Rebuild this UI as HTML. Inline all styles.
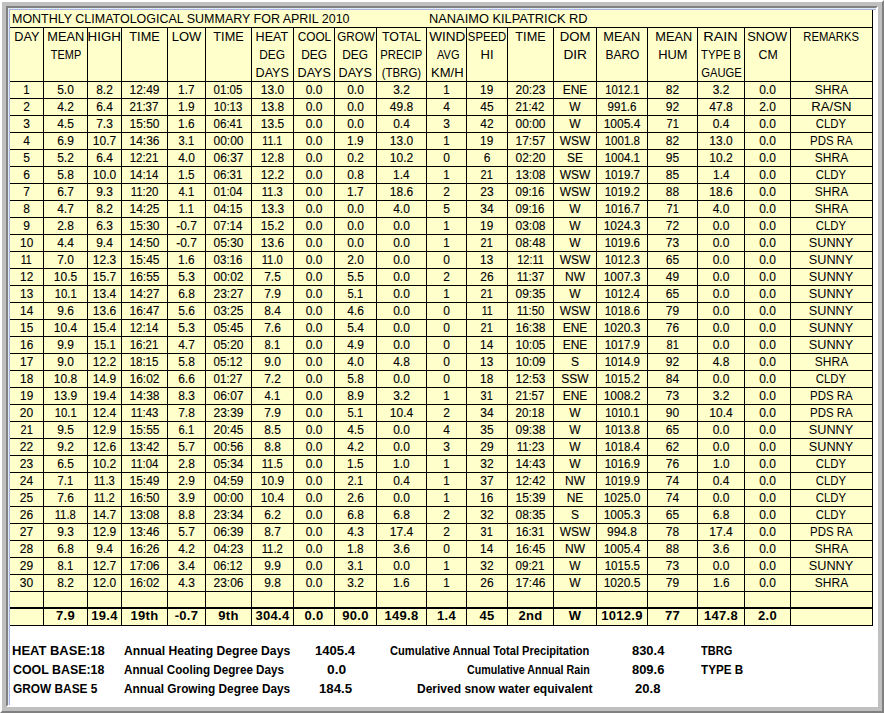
<!DOCTYPE html>
<html><head><meta charset="utf-8"><title>Monthly Climatological Summary</title>
<style>
html,body{margin:0;padding:0;}
body{width:884px;height:713px;position:relative;overflow:hidden;background:#fff;font-family:"Liberation Sans",sans-serif;color:#000;-webkit-text-stroke:0.12px #000;}
.a{position:absolute;}
.l{position:absolute;background:#000;}
.c{position:absolute;white-space:nowrap;text-align:center;}
.c span,.x span{display:inline-block;}
.x{position:absolute;white-space:nowrap;}
</style></head><body>

<div class="a" style="left:0;top:0;width:884px;height:713px;box-sizing:border-box;border-style:solid;border-width:2px;border-color:#fff #808080 #808080 #fff;background:#c0c0c0;"></div>
<div class="a" style="left:6px;top:6px;width:872px;height:701px;box-sizing:border-box;border-style:solid;border-width:2px;border-color:#808080 #fff #fff #808080;background:#fff;"></div>
<div class="a" style="left:8px;top:8px;width:1px;height:697px;background:#dce9f2;"></div>
<div class="a" style="left:9px;top:9px;width:1px;height:696px;background:#aab3e2;"></div>
<div class="a" style="left:8px;top:8px;width:868px;height:1px;background:#dce9f2;"></div>
<div class="a" style="left:9px;top:9px;width:867px;height:1px;background:#aab3e2;"></div>
<div class="a" style="left:10px;top:10px;width:862px;height:615px;background:#ffffcc;"></div>
<div class="l" style="left:10px;top:27px;width:863px;height:1px"></div>
<div class="l" style="left:10px;top:81px;width:863px;height:1px"></div>
<div class="l" style="left:10px;top:98px;width:863px;height:1px"></div>
<div class="l" style="left:10px;top:115px;width:863px;height:1px"></div>
<div class="l" style="left:10px;top:132px;width:863px;height:1px"></div>
<div class="l" style="left:10px;top:149px;width:863px;height:1px"></div>
<div class="l" style="left:10px;top:166px;width:863px;height:1px"></div>
<div class="l" style="left:10px;top:183px;width:863px;height:1px"></div>
<div class="l" style="left:10px;top:200px;width:863px;height:1px"></div>
<div class="l" style="left:10px;top:217px;width:863px;height:1px"></div>
<div class="l" style="left:10px;top:234px;width:863px;height:1px"></div>
<div class="l" style="left:10px;top:251px;width:863px;height:1px"></div>
<div class="l" style="left:10px;top:268px;width:863px;height:1px"></div>
<div class="l" style="left:10px;top:285px;width:863px;height:1px"></div>
<div class="l" style="left:10px;top:302px;width:863px;height:1px"></div>
<div class="l" style="left:10px;top:319px;width:863px;height:1px"></div>
<div class="l" style="left:10px;top:336px;width:863px;height:1px"></div>
<div class="l" style="left:10px;top:353px;width:863px;height:1px"></div>
<div class="l" style="left:10px;top:370px;width:863px;height:1px"></div>
<div class="l" style="left:10px;top:387px;width:863px;height:1px"></div>
<div class="l" style="left:10px;top:404px;width:863px;height:1px"></div>
<div class="l" style="left:10px;top:421px;width:863px;height:1px"></div>
<div class="l" style="left:10px;top:438px;width:863px;height:1px"></div>
<div class="l" style="left:10px;top:455px;width:863px;height:1px"></div>
<div class="l" style="left:10px;top:472px;width:863px;height:1px"></div>
<div class="l" style="left:10px;top:489px;width:863px;height:1px"></div>
<div class="l" style="left:10px;top:506px;width:863px;height:1px"></div>
<div class="l" style="left:10px;top:523px;width:863px;height:1px"></div>
<div class="l" style="left:10px;top:540px;width:863px;height:1px"></div>
<div class="l" style="left:10px;top:557px;width:863px;height:1px"></div>
<div class="l" style="left:10px;top:574px;width:863px;height:1px"></div>
<div class="l" style="left:10px;top:591px;width:863px;height:1px"></div>
<div class="l" style="left:10px;top:607px;width:863px;height:2px"></div>
<div class="l" style="left:10px;top:625px;width:863px;height:1px"></div>
<div class="l" style="left:43px;top:27px;width:1px;height:599px"></div>
<div class="l" style="left:87px;top:27px;width:1px;height:599px"></div>
<div class="l" style="left:121px;top:27px;width:1px;height:599px"></div>
<div class="l" style="left:167px;top:27px;width:1px;height:599px"></div>
<div class="l" style="left:205px;top:27px;width:1px;height:599px"></div>
<div class="l" style="left:251px;top:27px;width:1px;height:599px"></div>
<div class="l" style="left:293px;top:27px;width:1px;height:599px"></div>
<div class="l" style="left:334px;top:27px;width:1px;height:599px"></div>
<div class="l" style="left:376px;top:27px;width:1px;height:599px"></div>
<div class="l" style="left:426px;top:27px;width:1px;height:599px"></div>
<div class="l" style="left:466px;top:27px;width:1px;height:599px"></div>
<div class="l" style="left:507px;top:27px;width:1px;height:599px"></div>
<div class="l" style="left:553px;top:27px;width:1px;height:599px"></div>
<div class="l" style="left:596px;top:27px;width:1px;height:599px"></div>
<div class="l" style="left:647px;top:27px;width:1px;height:599px"></div>
<div class="l" style="left:697px;top:27px;width:1px;height:599px"></div>
<div class="l" style="left:744px;top:27px;width:1px;height:599px"></div>
<div class="l" style="left:790px;top:27px;width:1px;height:599px"></div>
<div class="l" style="left:872px;top:10px;width:1px;height:616px"></div>
<div class="x" style="left:12.04px;top:10px;line-height:17px;font-size:13px;-webkit-text-stroke:0"><span style="transform:scaleX(0.9600);transform-origin:0 0">MONTHLY CLIMATOLOGICAL SUMMARY FOR APRIL 2010</span></div>
<div class="x" style="left:429.01px;top:10px;line-height:17px;font-size:13px;-webkit-text-stroke:0"><span style="transform:scaleX(0.9874);transform-origin:0 0">NANAIMO KILPATRICK RD</span></div>
<div class="c" style="left:10px;top:28px;width:33px;line-height:18px;font-size:13px;-webkit-text-stroke:0"><span style="transform:scaleX(0.9750)">DAY</span></div>
<div class="c" style="left:44px;top:28px;width:43px;line-height:18px;font-size:13px;-webkit-text-stroke:0"><span style="transform:scaleX(0.9806)">MEAN</span></div>
<div class="c" style="left:45px;top:46px;width:43px;line-height:18px;font-size:13px;-webkit-text-stroke:0"><span style="transform:scaleX(0.8417)">TEMP</span></div>
<div class="c" style="left:88px;top:28px;width:33px;line-height:18px;font-size:13px;-webkit-text-stroke:0"><span style="transform:scaleX(1.0258)">HIGH</span></div>
<div class="c" style="left:122.4px;top:28px;width:45.0px;line-height:18px;font-size:13px;-webkit-text-stroke:0"><span style="transform:scaleX(0.9774)">TIME</span></div>
<div class="c" style="left:168px;top:28px;width:37px;line-height:18px;font-size:13px;-webkit-text-stroke:0"><span>LOW</span></div>
<div class="c" style="left:206.5px;top:28px;width:45.0px;line-height:18px;font-size:13px;-webkit-text-stroke:0"><span style="transform:scaleX(0.9774)">TIME</span></div>
<div class="c" style="left:251.2px;top:28px;width:41.0px;line-height:18px;font-size:13px;-webkit-text-stroke:0"><span style="transform:scaleX(0.9636)">HEAT</span></div>
<div class="c" style="left:252px;top:46px;width:41px;line-height:18px;font-size:13px;-webkit-text-stroke:0"><span style="transform:scaleX(0.9154)">DEG</span></div>
<div class="c" style="left:252px;top:64px;width:41px;line-height:18px;font-size:13px;-webkit-text-stroke:0"><span style="transform:scaleX(0.9697)">DAYS</span></div>
<div class="c" style="left:294px;top:28px;width:40px;line-height:18px;font-size:13px;-webkit-text-stroke:0"><span style="transform:scaleX(0.9111)">COOL</span></div>
<div class="c" style="left:294px;top:46px;width:40px;line-height:18px;font-size:13px;-webkit-text-stroke:0"><span style="transform:scaleX(0.9154)">DEG</span></div>
<div class="c" style="left:294px;top:64px;width:40px;line-height:18px;font-size:13px;-webkit-text-stroke:0"><span style="transform:scaleX(0.9697)">DAYS</span></div>
<div class="c" style="left:335px;top:28px;width:41px;line-height:18px;font-size:13px;-webkit-text-stroke:0"><span style="transform:scaleX(0.8951)">GROW</span></div>
<div class="c" style="left:335px;top:46px;width:41px;line-height:18px;font-size:13px;-webkit-text-stroke:0"><span style="transform:scaleX(0.9154)">DEG</span></div>
<div class="c" style="left:335px;top:64px;width:41px;line-height:18px;font-size:13px;-webkit-text-stroke:0"><span style="transform:scaleX(0.9697)">DAYS</span></div>
<div class="c" style="left:377px;top:28px;width:49px;line-height:18px;font-size:13px;-webkit-text-stroke:0"><span style="transform:scaleX(0.9561)">TOTAL</span></div>
<div class="c" style="left:377px;top:46px;width:49px;line-height:18px;font-size:13px;-webkit-text-stroke:0"><span style="transform:scaleX(0.8660)">PRECIP</span></div>
<div class="c" style="left:377px;top:64px;width:49px;line-height:18px;font-size:13px;-webkit-text-stroke:0"><span style="transform:scaleX(0.8814)">(TBRG)</span></div>
<div class="c" style="left:428px;top:28px;width:39px;line-height:18px;font-size:13px;-webkit-text-stroke:0"><span style="transform:scaleX(1.0412)">WIND</span></div>
<div class="c" style="left:428.3px;top:46px;width:39.0px;line-height:18px;font-size:13px;-webkit-text-stroke:0"><span style="transform:scaleX(0.8500)">AVG</span></div>
<div class="c" style="left:427.8px;top:64px;width:39.0px;line-height:18px;font-size:13px;-webkit-text-stroke:0"><span>KM/H</span></div>
<div class="c" style="left:464.5px;top:28px;width:40.0px;line-height:18px;font-size:13px;-webkit-text-stroke:0"><span style="transform:scaleX(0.8721)">SPEED</span></div>
<div class="c" style="left:467px;top:46px;width:40px;line-height:18px;font-size:13px;-webkit-text-stroke:0"><span>HI</span></div>
<div class="c" style="left:508.5px;top:28px;width:45.0px;line-height:18px;font-size:13px;-webkit-text-stroke:0"><span style="transform:scaleX(0.9774)">TIME</span></div>
<div class="c" style="left:554px;top:28px;width:42px;line-height:18px;font-size:13px;-webkit-text-stroke:0"><span style="transform:scaleX(1.0143)">DOM</span></div>
<div class="c" style="left:554px;top:46px;width:42px;line-height:18px;font-size:13px;-webkit-text-stroke:0"><span style="transform:scaleX(1.0524)">DIR</span></div>
<div class="c" style="left:597px;top:28px;width:50px;line-height:18px;font-size:13px;-webkit-text-stroke:0"><span style="transform:scaleX(0.9806)">MEAN</span></div>
<div class="c" style="left:597px;top:46px;width:50px;line-height:18px;font-size:13px;-webkit-text-stroke:0"><span style="transform:scaleX(0.9200)">BARO</span></div>
<div class="c" style="left:648.9px;top:28px;width:49.0px;line-height:18px;font-size:13px;-webkit-text-stroke:0"><span style="transform:scaleX(0.9806)">MEAN</span></div>
<div class="c" style="left:648px;top:46px;width:49px;line-height:18px;font-size:13px;-webkit-text-stroke:0"><span style="transform:scaleX(0.9893)">HUM</span></div>
<div class="c" style="left:698px;top:28px;width:46px;line-height:18px;font-size:13px;-webkit-text-stroke:0"><span style="transform:scaleX(1.1103)">RAIN</span></div>
<div class="c" style="left:698px;top:46px;width:46px;line-height:18px;font-size:13px;-webkit-text-stroke:0"><span style="transform:scaleX(0.8652)">TYPE B</span></div>
<div class="c" style="left:698px;top:64px;width:46px;line-height:18px;font-size:13px;-webkit-text-stroke:0"><span style="transform:scaleX(0.8630)">GAUGE</span></div>
<div class="c" style="left:745px;top:28px;width:45px;line-height:18px;font-size:13px;-webkit-text-stroke:0"><span style="transform:scaleX(0.9850)">SNOW</span></div>
<div class="c" style="left:745.8px;top:46px;width:45.0px;line-height:18px;font-size:13px;-webkit-text-stroke:0"><span style="transform:scaleX(0.9500)">CM</span></div>
<div class="c" style="left:791px;top:28px;width:81px;line-height:18px;font-size:13px;-webkit-text-stroke:0"><span style="transform:scaleX(0.8667)">REMARKS</span></div>
<div class="c" style="left:10px;top:82px;width:33px;line-height:16px;font-size:12px"><span style="transform:scaleX(0.9600)">1</span></div>
<div class="c" style="left:44px;top:82px;width:43px;line-height:16px;font-size:12px"><span>5.0</span></div>
<div class="c" style="left:88px;top:82px;width:33px;line-height:16px;font-size:12px"><span>8.2</span></div>
<div class="c" style="left:122px;top:82px;width:45px;line-height:16px;font-size:12px"><span>12:49</span></div>
<div class="c" style="left:168px;top:82px;width:37px;line-height:16px;font-size:12px"><span style="transform:scaleX(0.9867)">1.7</span></div>
<div class="c" style="left:206px;top:82px;width:45px;line-height:16px;font-size:12px"><span style="transform:scaleX(0.9633)">01:05</span></div>
<div class="c" style="left:252px;top:82px;width:41px;line-height:16px;font-size:12px"><span>13.0</span></div>
<div class="c" style="left:294px;top:82px;width:40px;line-height:16px;font-size:12px"><span>0.0</span></div>
<div class="c" style="left:335px;top:82px;width:41px;line-height:16px;font-size:12px"><span>0.0</span></div>
<div class="c" style="left:377px;top:82px;width:49px;line-height:16px;font-size:12px"><span>3.2</span></div>
<div class="c" style="left:427px;top:82px;width:39px;line-height:16px;font-size:12px"><span style="transform:scaleX(0.9600)">1</span></div>
<div class="c" style="left:467px;top:82px;width:40px;line-height:16px;font-size:12px"><span style="transform:scaleX(0.9833)">19</span></div>
<div class="c" style="left:508px;top:82px;width:45px;line-height:16px;font-size:12px"><span>20:23</span></div>
<div class="c" style="left:554px;top:82px;width:42px;line-height:16px;font-size:12px"><span>ENE</span></div>
<div class="c" style="left:597px;top:82px;width:50px;line-height:16px;font-size:12px"><span style="transform:scaleX(0.9314)">1012.1</span></div>
<div class="c" style="left:648px;top:82px;width:49px;line-height:16px;font-size:12px"><span>82</span></div>
<div class="c" style="left:698px;top:82px;width:46px;line-height:16px;font-size:12px"><span>3.2</span></div>
<div class="c" style="left:745px;top:82px;width:45px;line-height:16px;font-size:12px"><span>0.0</span></div>
<div class="c" style="left:791px;top:82px;width:81px;line-height:16px;font-size:12px;-webkit-text-stroke:0"><span>SHRA</span></div>
<div class="c" style="left:10px;top:99px;width:33px;line-height:16px;font-size:12px"><span>2</span></div>
<div class="c" style="left:44px;top:99px;width:43px;line-height:16px;font-size:12px"><span>4.2</span></div>
<div class="c" style="left:88px;top:99px;width:33px;line-height:16px;font-size:12px"><span>6.4</span></div>
<div class="c" style="left:122px;top:99px;width:45px;line-height:16px;font-size:12px"><span style="transform:scaleX(0.9621)">21:37</span></div>
<div class="c" style="left:168px;top:99px;width:37px;line-height:16px;font-size:12px"><span style="transform:scaleX(0.9867)">1.9</span></div>
<div class="c" style="left:206px;top:99px;width:45px;line-height:16px;font-size:12px"><span style="transform:scaleX(0.9552)">10:13</span></div>
<div class="c" style="left:252px;top:99px;width:41px;line-height:16px;font-size:12px"><span>13.8</span></div>
<div class="c" style="left:294px;top:99px;width:40px;line-height:16px;font-size:12px"><span>0.0</span></div>
<div class="c" style="left:335px;top:99px;width:41px;line-height:16px;font-size:12px"><span>0.0</span></div>
<div class="c" style="left:377px;top:99px;width:49px;line-height:16px;font-size:12px"><span>49.8</span></div>
<div class="c" style="left:427px;top:99px;width:39px;line-height:16px;font-size:12px"><span>4</span></div>
<div class="c" style="left:467px;top:99px;width:40px;line-height:16px;font-size:12px"><span>45</span></div>
<div class="c" style="left:508px;top:99px;width:45px;line-height:16px;font-size:12px"><span style="transform:scaleX(0.9621)">21:42</span></div>
<div class="c" style="left:554px;top:99px;width:42px;line-height:16px;font-size:12px"><span>W</span></div>
<div class="c" style="left:597px;top:99px;width:50px;line-height:16px;font-size:12px"><span style="transform:scaleX(0.9621)">991.6</span></div>
<div class="c" style="left:648px;top:99px;width:49px;line-height:16px;font-size:12px"><span>92</span></div>
<div class="c" style="left:698px;top:99px;width:46px;line-height:16px;font-size:12px"><span>47.8</span></div>
<div class="c" style="left:745px;top:99px;width:45px;line-height:16px;font-size:12px"><span>2.0</span></div>
<div class="c" style="left:791px;top:99px;width:81px;line-height:16px;font-size:12px;-webkit-text-stroke:0"><span style="transform:scaleX(1.0971)">RA/SN</span></div>
<div class="c" style="left:10px;top:116px;width:33px;line-height:16px;font-size:12px"><span>3</span></div>
<div class="c" style="left:44px;top:116px;width:43px;line-height:16px;font-size:12px"><span>4.5</span></div>
<div class="c" style="left:88px;top:116px;width:33px;line-height:16px;font-size:12px"><span>7.3</span></div>
<div class="c" style="left:122px;top:116px;width:45px;line-height:16px;font-size:12px"><span>15:50</span></div>
<div class="c" style="left:168px;top:116px;width:37px;line-height:16px;font-size:12px"><span style="transform:scaleX(0.9867)">1.6</span></div>
<div class="c" style="left:206px;top:116px;width:45px;line-height:16px;font-size:12px"><span style="transform:scaleX(0.9633)">06:41</span></div>
<div class="c" style="left:252px;top:116px;width:41px;line-height:16px;font-size:12px"><span>13.5</span></div>
<div class="c" style="left:294px;top:116px;width:40px;line-height:16px;font-size:12px"><span>0.0</span></div>
<div class="c" style="left:335px;top:116px;width:41px;line-height:16px;font-size:12px"><span>0.0</span></div>
<div class="c" style="left:377px;top:116px;width:49px;line-height:16px;font-size:12px"><span>0.4</span></div>
<div class="c" style="left:427px;top:116px;width:39px;line-height:16px;font-size:12px"><span>3</span></div>
<div class="c" style="left:467px;top:116px;width:40px;line-height:16px;font-size:12px"><span>42</span></div>
<div class="c" style="left:508px;top:116px;width:45px;line-height:16px;font-size:12px"><span>00:00</span></div>
<div class="c" style="left:554px;top:116px;width:42px;line-height:16px;font-size:12px"><span>W</span></div>
<div class="c" style="left:597px;top:116px;width:50px;line-height:16px;font-size:12px"><span>1005.4</span></div>
<div class="c" style="left:648px;top:116px;width:49px;line-height:16px;font-size:12px"><span style="transform:scaleX(0.9083)">71</span></div>
<div class="c" style="left:698px;top:116px;width:46px;line-height:16px;font-size:12px"><span>0.4</span></div>
<div class="c" style="left:745px;top:116px;width:45px;line-height:16px;font-size:12px"><span>0.0</span></div>
<div class="c" style="left:791px;top:116px;width:81px;line-height:16px;font-size:12px;-webkit-text-stroke:0"><span style="transform:scaleX(0.9484)">CLDY</span></div>
<div class="c" style="left:10px;top:133px;width:33px;line-height:16px;font-size:12px"><span>4</span></div>
<div class="c" style="left:44px;top:133px;width:43px;line-height:16px;font-size:12px"><span>6.9</span></div>
<div class="c" style="left:88px;top:133px;width:33px;line-height:16px;font-size:12px"><span>10.7</span></div>
<div class="c" style="left:122px;top:133px;width:45px;line-height:16px;font-size:12px"><span>14:36</span></div>
<div class="c" style="left:168px;top:133px;width:37px;line-height:16px;font-size:12px"><span style="transform:scaleX(0.9267)">3.1</span></div>
<div class="c" style="left:206px;top:133px;width:45px;line-height:16px;font-size:12px"><span>00:00</span></div>
<div class="c" style="left:252px;top:133px;width:41px;line-height:16px;font-size:12px"><span style="transform:scaleX(0.8857)">11.1</span></div>
<div class="c" style="left:294px;top:133px;width:40px;line-height:16px;font-size:12px"><span>0.0</span></div>
<div class="c" style="left:335px;top:133px;width:41px;line-height:16px;font-size:12px"><span style="transform:scaleX(0.9867)">1.9</span></div>
<div class="c" style="left:377px;top:133px;width:49px;line-height:16px;font-size:12px"><span>13.0</span></div>
<div class="c" style="left:427px;top:133px;width:39px;line-height:16px;font-size:12px"><span style="transform:scaleX(0.9600)">1</span></div>
<div class="c" style="left:467px;top:133px;width:40px;line-height:16px;font-size:12px"><span style="transform:scaleX(0.9833)">19</span></div>
<div class="c" style="left:508px;top:133px;width:45px;line-height:16px;font-size:12px"><span>17:57</span></div>
<div class="c" style="left:554px;top:133px;width:42px;line-height:16px;font-size:12px"><span>WSW</span></div>
<div class="c" style="left:597px;top:133px;width:50px;line-height:16px;font-size:12px"><span style="transform:scaleX(0.9629)">1001.8</span></div>
<div class="c" style="left:648px;top:133px;width:49px;line-height:16px;font-size:12px"><span>82</span></div>
<div class="c" style="left:698px;top:133px;width:46px;line-height:16px;font-size:12px"><span>13.0</span></div>
<div class="c" style="left:745px;top:133px;width:45px;line-height:16px;font-size:12px"><span>0.0</span></div>
<div class="c" style="left:791px;top:133px;width:81px;line-height:16px;font-size:12px;-webkit-text-stroke:0"><span style="transform:scaleX(0.9523)">PDS RA</span></div>
<div class="c" style="left:10px;top:150px;width:33px;line-height:16px;font-size:12px"><span>5</span></div>
<div class="c" style="left:44px;top:150px;width:43px;line-height:16px;font-size:12px"><span>5.2</span></div>
<div class="c" style="left:88px;top:150px;width:33px;line-height:16px;font-size:12px"><span>6.4</span></div>
<div class="c" style="left:122px;top:150px;width:45px;line-height:16px;font-size:12px"><span style="transform:scaleX(0.9552)">12:21</span></div>
<div class="c" style="left:168px;top:150px;width:37px;line-height:16px;font-size:12px"><span>4.0</span></div>
<div class="c" style="left:206px;top:150px;width:45px;line-height:16px;font-size:12px"><span>06:37</span></div>
<div class="c" style="left:252px;top:150px;width:41px;line-height:16px;font-size:12px"><span>12.8</span></div>
<div class="c" style="left:294px;top:150px;width:40px;line-height:16px;font-size:12px"><span>0.0</span></div>
<div class="c" style="left:335px;top:150px;width:41px;line-height:16px;font-size:12px"><span>0.2</span></div>
<div class="c" style="left:377px;top:150px;width:49px;line-height:16px;font-size:12px"><span>10.2</span></div>
<div class="c" style="left:427px;top:150px;width:39px;line-height:16px;font-size:12px"><span>0</span></div>
<div class="c" style="left:467px;top:150px;width:40px;line-height:16px;font-size:12px"><span>6</span></div>
<div class="c" style="left:508px;top:150px;width:45px;line-height:16px;font-size:12px"><span>02:20</span></div>
<div class="c" style="left:554px;top:150px;width:42px;line-height:16px;font-size:12px"><span>SE</span></div>
<div class="c" style="left:597px;top:150px;width:50px;line-height:16px;font-size:12px"><span style="transform:scaleX(0.9629)">1004.1</span></div>
<div class="c" style="left:648px;top:150px;width:49px;line-height:16px;font-size:12px"><span>95</span></div>
<div class="c" style="left:698px;top:150px;width:46px;line-height:16px;font-size:12px"><span>10.2</span></div>
<div class="c" style="left:745px;top:150px;width:45px;line-height:16px;font-size:12px"><span>0.0</span></div>
<div class="c" style="left:791px;top:150px;width:81px;line-height:16px;font-size:12px;-webkit-text-stroke:0"><span>SHRA</span></div>
<div class="c" style="left:10px;top:167px;width:33px;line-height:16px;font-size:12px"><span>6</span></div>
<div class="c" style="left:44px;top:167px;width:43px;line-height:16px;font-size:12px"><span>5.8</span></div>
<div class="c" style="left:88px;top:167px;width:33px;line-height:16px;font-size:12px"><span>10.0</span></div>
<div class="c" style="left:122px;top:167px;width:45px;line-height:16px;font-size:12px"><span style="transform:scaleX(0.9552)">14:14</span></div>
<div class="c" style="left:168px;top:167px;width:37px;line-height:16px;font-size:12px"><span style="transform:scaleX(0.9867)">1.5</span></div>
<div class="c" style="left:206px;top:167px;width:45px;line-height:16px;font-size:12px"><span style="transform:scaleX(0.9633)">06:31</span></div>
<div class="c" style="left:252px;top:167px;width:41px;line-height:16px;font-size:12px"><span>12.2</span></div>
<div class="c" style="left:294px;top:167px;width:40px;line-height:16px;font-size:12px"><span>0.0</span></div>
<div class="c" style="left:335px;top:167px;width:41px;line-height:16px;font-size:12px"><span>0.8</span></div>
<div class="c" style="left:377px;top:167px;width:49px;line-height:16px;font-size:12px"><span style="transform:scaleX(0.9875)">1.4</span></div>
<div class="c" style="left:427px;top:167px;width:39px;line-height:16px;font-size:12px"><span style="transform:scaleX(0.9600)">1</span></div>
<div class="c" style="left:467px;top:167px;width:40px;line-height:16px;font-size:12px"><span style="transform:scaleX(0.9083)">21</span></div>
<div class="c" style="left:508px;top:167px;width:45px;line-height:16px;font-size:12px"><span>13:08</span></div>
<div class="c" style="left:554px;top:167px;width:42px;line-height:16px;font-size:12px"><span>WSW</span></div>
<div class="c" style="left:597px;top:167px;width:50px;line-height:16px;font-size:12px"><span style="transform:scaleX(0.9629)">1019.7</span></div>
<div class="c" style="left:648px;top:167px;width:49px;line-height:16px;font-size:12px"><span>85</span></div>
<div class="c" style="left:698px;top:167px;width:46px;line-height:16px;font-size:12px"><span style="transform:scaleX(0.9875)">1.4</span></div>
<div class="c" style="left:745px;top:167px;width:45px;line-height:16px;font-size:12px"><span>0.0</span></div>
<div class="c" style="left:791px;top:167px;width:81px;line-height:16px;font-size:12px;-webkit-text-stroke:0"><span style="transform:scaleX(0.9484)">CLDY</span></div>
<div class="c" style="left:10px;top:184px;width:33px;line-height:16px;font-size:12px"><span>7</span></div>
<div class="c" style="left:44px;top:184px;width:43px;line-height:16px;font-size:12px"><span>6.7</span></div>
<div class="c" style="left:88px;top:184px;width:33px;line-height:16px;font-size:12px"><span>9.3</span></div>
<div class="c" style="left:122px;top:184px;width:45px;line-height:16px;font-size:12px"><span style="transform:scaleX(0.9536)">11:20</span></div>
<div class="c" style="left:168px;top:184px;width:37px;line-height:16px;font-size:12px"><span style="transform:scaleX(0.9313)">4.1</span></div>
<div class="c" style="left:206px;top:184px;width:45px;line-height:16px;font-size:12px"><span style="transform:scaleX(0.9633)">01:04</span></div>
<div class="c" style="left:252px;top:184px;width:41px;line-height:16px;font-size:12px"><span style="transform:scaleX(0.9381)">11.3</span></div>
<div class="c" style="left:294px;top:184px;width:40px;line-height:16px;font-size:12px"><span>0.0</span></div>
<div class="c" style="left:335px;top:184px;width:41px;line-height:16px;font-size:12px"><span style="transform:scaleX(0.9867)">1.7</span></div>
<div class="c" style="left:377px;top:184px;width:49px;line-height:16px;font-size:12px"><span>18.6</span></div>
<div class="c" style="left:427px;top:184px;width:39px;line-height:16px;font-size:12px"><span>2</span></div>
<div class="c" style="left:467px;top:184px;width:40px;line-height:16px;font-size:12px"><span>23</span></div>
<div class="c" style="left:508px;top:184px;width:45px;line-height:16px;font-size:12px"><span style="transform:scaleX(0.9633)">09:16</span></div>
<div class="c" style="left:554px;top:184px;width:42px;line-height:16px;font-size:12px"><span>WSW</span></div>
<div class="c" style="left:597px;top:184px;width:50px;line-height:16px;font-size:12px"><span style="transform:scaleX(0.9629)">1019.2</span></div>
<div class="c" style="left:648px;top:184px;width:49px;line-height:16px;font-size:12px"><span>88</span></div>
<div class="c" style="left:698px;top:184px;width:46px;line-height:16px;font-size:12px"><span>18.6</span></div>
<div class="c" style="left:745px;top:184px;width:45px;line-height:16px;font-size:12px"><span>0.0</span></div>
<div class="c" style="left:791px;top:184px;width:81px;line-height:16px;font-size:12px;-webkit-text-stroke:0"><span>SHRA</span></div>
<div class="c" style="left:10px;top:201px;width:33px;line-height:16px;font-size:12px"><span>8</span></div>
<div class="c" style="left:44px;top:201px;width:43px;line-height:16px;font-size:12px"><span>4.7</span></div>
<div class="c" style="left:88px;top:201px;width:33px;line-height:16px;font-size:12px"><span>8.2</span></div>
<div class="c" style="left:122px;top:201px;width:45px;line-height:16px;font-size:12px"><span>14:25</span></div>
<div class="c" style="left:168px;top:201px;width:37px;line-height:16px;font-size:12px"><span style="transform:scaleX(0.9133)">1.1</span></div>
<div class="c" style="left:206px;top:201px;width:45px;line-height:16px;font-size:12px"><span style="transform:scaleX(0.9633)">04:15</span></div>
<div class="c" style="left:252px;top:201px;width:41px;line-height:16px;font-size:12px"><span>13.3</span></div>
<div class="c" style="left:294px;top:201px;width:40px;line-height:16px;font-size:12px"><span>0.0</span></div>
<div class="c" style="left:335px;top:201px;width:41px;line-height:16px;font-size:12px"><span>0.0</span></div>
<div class="c" style="left:377px;top:201px;width:49px;line-height:16px;font-size:12px"><span>4.0</span></div>
<div class="c" style="left:427px;top:201px;width:39px;line-height:16px;font-size:12px"><span>5</span></div>
<div class="c" style="left:467px;top:201px;width:40px;line-height:16px;font-size:12px"><span>34</span></div>
<div class="c" style="left:508px;top:201px;width:45px;line-height:16px;font-size:12px"><span style="transform:scaleX(0.9633)">09:16</span></div>
<div class="c" style="left:554px;top:201px;width:42px;line-height:16px;font-size:12px"><span>W</span></div>
<div class="c" style="left:597px;top:201px;width:50px;line-height:16px;font-size:12px"><span style="transform:scaleX(0.9629)">1016.7</span></div>
<div class="c" style="left:648px;top:201px;width:49px;line-height:16px;font-size:12px"><span style="transform:scaleX(0.9083)">71</span></div>
<div class="c" style="left:698px;top:201px;width:46px;line-height:16px;font-size:12px"><span>4.0</span></div>
<div class="c" style="left:745px;top:201px;width:45px;line-height:16px;font-size:12px"><span>0.0</span></div>
<div class="c" style="left:791px;top:201px;width:81px;line-height:16px;font-size:12px;-webkit-text-stroke:0"><span>SHRA</span></div>
<div class="c" style="left:10px;top:218px;width:33px;line-height:16px;font-size:12px"><span>9</span></div>
<div class="c" style="left:44px;top:218px;width:43px;line-height:16px;font-size:12px"><span>2.8</span></div>
<div class="c" style="left:88px;top:218px;width:33px;line-height:16px;font-size:12px"><span>6.3</span></div>
<div class="c" style="left:122px;top:218px;width:45px;line-height:16px;font-size:12px"><span>15:30</span></div>
<div class="c" style="left:168px;top:218px;width:37px;line-height:16px;font-size:12px"><span>-0.7</span></div>
<div class="c" style="left:206px;top:218px;width:45px;line-height:16px;font-size:12px"><span style="transform:scaleX(0.9633)">07:14</span></div>
<div class="c" style="left:252px;top:218px;width:41px;line-height:16px;font-size:12px"><span>15.2</span></div>
<div class="c" style="left:294px;top:218px;width:40px;line-height:16px;font-size:12px"><span>0.0</span></div>
<div class="c" style="left:335px;top:218px;width:41px;line-height:16px;font-size:12px"><span>0.0</span></div>
<div class="c" style="left:377px;top:218px;width:49px;line-height:16px;font-size:12px"><span>0.0</span></div>
<div class="c" style="left:427px;top:218px;width:39px;line-height:16px;font-size:12px"><span style="transform:scaleX(0.9600)">1</span></div>
<div class="c" style="left:467px;top:218px;width:40px;line-height:16px;font-size:12px"><span style="transform:scaleX(0.9833)">19</span></div>
<div class="c" style="left:508px;top:218px;width:45px;line-height:16px;font-size:12px"><span>03:08</span></div>
<div class="c" style="left:554px;top:218px;width:42px;line-height:16px;font-size:12px"><span>W</span></div>
<div class="c" style="left:597px;top:218px;width:50px;line-height:16px;font-size:12px"><span>1024.3</span></div>
<div class="c" style="left:648px;top:218px;width:49px;line-height:16px;font-size:12px"><span>72</span></div>
<div class="c" style="left:698px;top:218px;width:46px;line-height:16px;font-size:12px"><span>0.0</span></div>
<div class="c" style="left:745px;top:218px;width:45px;line-height:16px;font-size:12px"><span>0.0</span></div>
<div class="c" style="left:791px;top:218px;width:81px;line-height:16px;font-size:12px;-webkit-text-stroke:0"><span style="transform:scaleX(0.9484)">CLDY</span></div>
<div class="c" style="left:10px;top:235px;width:33px;line-height:16px;font-size:12px"><span style="transform:scaleX(0.9833)">10</span></div>
<div class="c" style="left:44px;top:235px;width:43px;line-height:16px;font-size:12px"><span>4.4</span></div>
<div class="c" style="left:88px;top:235px;width:33px;line-height:16px;font-size:12px"><span>9.4</span></div>
<div class="c" style="left:122px;top:235px;width:45px;line-height:16px;font-size:12px"><span>14:50</span></div>
<div class="c" style="left:168px;top:235px;width:37px;line-height:16px;font-size:12px"><span>-0.7</span></div>
<div class="c" style="left:206px;top:235px;width:45px;line-height:16px;font-size:12px"><span>05:30</span></div>
<div class="c" style="left:252px;top:235px;width:41px;line-height:16px;font-size:12px"><span>13.6</span></div>
<div class="c" style="left:294px;top:235px;width:40px;line-height:16px;font-size:12px"><span>0.0</span></div>
<div class="c" style="left:335px;top:235px;width:41px;line-height:16px;font-size:12px"><span>0.0</span></div>
<div class="c" style="left:377px;top:235px;width:49px;line-height:16px;font-size:12px"><span>0.0</span></div>
<div class="c" style="left:427px;top:235px;width:39px;line-height:16px;font-size:12px"><span style="transform:scaleX(0.9600)">1</span></div>
<div class="c" style="left:467px;top:235px;width:40px;line-height:16px;font-size:12px"><span style="transform:scaleX(0.9083)">21</span></div>
<div class="c" style="left:508px;top:235px;width:45px;line-height:16px;font-size:12px"><span>08:48</span></div>
<div class="c" style="left:554px;top:235px;width:42px;line-height:16px;font-size:12px"><span>W</span></div>
<div class="c" style="left:597px;top:235px;width:50px;line-height:16px;font-size:12px"><span style="transform:scaleX(0.9629)">1019.6</span></div>
<div class="c" style="left:648px;top:235px;width:49px;line-height:16px;font-size:12px"><span>73</span></div>
<div class="c" style="left:698px;top:235px;width:46px;line-height:16px;font-size:12px"><span>0.0</span></div>
<div class="c" style="left:745px;top:235px;width:45px;line-height:16px;font-size:12px"><span>0.0</span></div>
<div class="c" style="left:791px;top:235px;width:81px;line-height:16px;font-size:12px;-webkit-text-stroke:0"><span style="transform:scaleX(1.0585)">SUNNY</span></div>
<div class="c" style="left:10px;top:252px;width:33px;line-height:16px;font-size:12px"><span style="transform:scaleX(0.8818)">11</span></div>
<div class="c" style="left:44px;top:252px;width:43px;line-height:16px;font-size:12px"><span>7.0</span></div>
<div class="c" style="left:88px;top:252px;width:33px;line-height:16px;font-size:12px"><span>12.3</span></div>
<div class="c" style="left:122px;top:252px;width:45px;line-height:16px;font-size:12px"><span>15:45</span></div>
<div class="c" style="left:168px;top:252px;width:37px;line-height:16px;font-size:12px"><span style="transform:scaleX(0.9867)">1.6</span></div>
<div class="c" style="left:206px;top:252px;width:45px;line-height:16px;font-size:12px"><span style="transform:scaleX(0.9633)">03:16</span></div>
<div class="c" style="left:252px;top:252px;width:41px;line-height:16px;font-size:12px"><span style="transform:scaleX(0.9381)">11.0</span></div>
<div class="c" style="left:294px;top:252px;width:40px;line-height:16px;font-size:12px"><span>0.0</span></div>
<div class="c" style="left:335px;top:252px;width:41px;line-height:16px;font-size:12px"><span>2.0</span></div>
<div class="c" style="left:377px;top:252px;width:49px;line-height:16px;font-size:12px"><span>0.0</span></div>
<div class="c" style="left:427px;top:252px;width:39px;line-height:16px;font-size:12px"><span>0</span></div>
<div class="c" style="left:467px;top:252px;width:40px;line-height:16px;font-size:12px"><span style="transform:scaleX(0.9833)">13</span></div>
<div class="c" style="left:508px;top:252px;width:45px;line-height:16px;font-size:12px"><span style="transform:scaleX(0.9143)">12:11</span></div>
<div class="c" style="left:554px;top:252px;width:42px;line-height:16px;font-size:12px"><span>WSW</span></div>
<div class="c" style="left:597px;top:252px;width:50px;line-height:16px;font-size:12px"><span style="transform:scaleX(0.9629)">1012.3</span></div>
<div class="c" style="left:648px;top:252px;width:49px;line-height:16px;font-size:12px"><span>65</span></div>
<div class="c" style="left:698px;top:252px;width:46px;line-height:16px;font-size:12px"><span>0.0</span></div>
<div class="c" style="left:745px;top:252px;width:45px;line-height:16px;font-size:12px"><span>0.0</span></div>
<div class="c" style="left:791px;top:252px;width:81px;line-height:16px;font-size:12px;-webkit-text-stroke:0"><span style="transform:scaleX(1.0585)">SUNNY</span></div>
<div class="c" style="left:10px;top:269px;width:33px;line-height:16px;font-size:12px"><span style="transform:scaleX(0.9833)">12</span></div>
<div class="c" style="left:44px;top:269px;width:43px;line-height:16px;font-size:12px"><span>10.5</span></div>
<div class="c" style="left:88px;top:269px;width:33px;line-height:16px;font-size:12px"><span>15.7</span></div>
<div class="c" style="left:122px;top:269px;width:45px;line-height:16px;font-size:12px"><span>16:55</span></div>
<div class="c" style="left:168px;top:269px;width:37px;line-height:16px;font-size:12px"><span>5.3</span></div>
<div class="c" style="left:206px;top:269px;width:45px;line-height:16px;font-size:12px"><span>00:02</span></div>
<div class="c" style="left:252px;top:269px;width:41px;line-height:16px;font-size:12px"><span>7.5</span></div>
<div class="c" style="left:294px;top:269px;width:40px;line-height:16px;font-size:12px"><span>0.0</span></div>
<div class="c" style="left:335px;top:269px;width:41px;line-height:16px;font-size:12px"><span>5.5</span></div>
<div class="c" style="left:377px;top:269px;width:49px;line-height:16px;font-size:12px"><span>0.0</span></div>
<div class="c" style="left:427px;top:269px;width:39px;line-height:16px;font-size:12px"><span>2</span></div>
<div class="c" style="left:467px;top:269px;width:40px;line-height:16px;font-size:12px"><span>26</span></div>
<div class="c" style="left:508px;top:269px;width:45px;line-height:16px;font-size:12px"><span style="transform:scaleX(0.9536)">11:37</span></div>
<div class="c" style="left:554px;top:269px;width:42px;line-height:16px;font-size:12px"><span>NW</span></div>
<div class="c" style="left:597px;top:269px;width:50px;line-height:16px;font-size:12px"><span>1007.3</span></div>
<div class="c" style="left:648px;top:269px;width:49px;line-height:16px;font-size:12px"><span>49</span></div>
<div class="c" style="left:698px;top:269px;width:46px;line-height:16px;font-size:12px"><span>0.0</span></div>
<div class="c" style="left:745px;top:269px;width:45px;line-height:16px;font-size:12px"><span>0.0</span></div>
<div class="c" style="left:791px;top:269px;width:81px;line-height:16px;font-size:12px;-webkit-text-stroke:0"><span style="transform:scaleX(1.0585)">SUNNY</span></div>
<div class="c" style="left:10px;top:286px;width:33px;line-height:16px;font-size:12px"><span style="transform:scaleX(0.9833)">13</span></div>
<div class="c" style="left:44px;top:286px;width:43px;line-height:16px;font-size:12px"><span style="transform:scaleX(0.9409)">10.1</span></div>
<div class="c" style="left:88px;top:286px;width:33px;line-height:16px;font-size:12px"><span>13.4</span></div>
<div class="c" style="left:122px;top:286px;width:45px;line-height:16px;font-size:12px"><span>14:27</span></div>
<div class="c" style="left:168px;top:286px;width:37px;line-height:16px;font-size:12px"><span>6.8</span></div>
<div class="c" style="left:206px;top:286px;width:45px;line-height:16px;font-size:12px"><span>23:27</span></div>
<div class="c" style="left:252px;top:286px;width:41px;line-height:16px;font-size:12px"><span>7.9</span></div>
<div class="c" style="left:294px;top:286px;width:40px;line-height:16px;font-size:12px"><span>0.0</span></div>
<div class="c" style="left:335px;top:286px;width:41px;line-height:16px;font-size:12px"><span style="transform:scaleX(0.9267)">5.1</span></div>
<div class="c" style="left:377px;top:286px;width:49px;line-height:16px;font-size:12px"><span>0.0</span></div>
<div class="c" style="left:427px;top:286px;width:39px;line-height:16px;font-size:12px"><span style="transform:scaleX(0.9600)">1</span></div>
<div class="c" style="left:467px;top:286px;width:40px;line-height:16px;font-size:12px"><span style="transform:scaleX(0.9083)">21</span></div>
<div class="c" style="left:508px;top:286px;width:45px;line-height:16px;font-size:12px"><span>09:35</span></div>
<div class="c" style="left:554px;top:286px;width:42px;line-height:16px;font-size:12px"><span>W</span></div>
<div class="c" style="left:597px;top:286px;width:50px;line-height:16px;font-size:12px"><span style="transform:scaleX(0.9639)">1012.4</span></div>
<div class="c" style="left:648px;top:286px;width:49px;line-height:16px;font-size:12px"><span>65</span></div>
<div class="c" style="left:698px;top:286px;width:46px;line-height:16px;font-size:12px"><span>0.0</span></div>
<div class="c" style="left:745px;top:286px;width:45px;line-height:16px;font-size:12px"><span>0.0</span></div>
<div class="c" style="left:791px;top:286px;width:81px;line-height:16px;font-size:12px;-webkit-text-stroke:0"><span style="transform:scaleX(1.0585)">SUNNY</span></div>
<div class="c" style="left:10px;top:303px;width:33px;line-height:16px;font-size:12px"><span style="transform:scaleX(0.9833)">14</span></div>
<div class="c" style="left:44px;top:303px;width:43px;line-height:16px;font-size:12px"><span>9.6</span></div>
<div class="c" style="left:88px;top:303px;width:33px;line-height:16px;font-size:12px"><span>13.6</span></div>
<div class="c" style="left:122px;top:303px;width:45px;line-height:16px;font-size:12px"><span>16:47</span></div>
<div class="c" style="left:168px;top:303px;width:37px;line-height:16px;font-size:12px"><span>5.6</span></div>
<div class="c" style="left:206px;top:303px;width:45px;line-height:16px;font-size:12px"><span>03:25</span></div>
<div class="c" style="left:252px;top:303px;width:41px;line-height:16px;font-size:12px"><span>8.4</span></div>
<div class="c" style="left:294px;top:303px;width:40px;line-height:16px;font-size:12px"><span>0.0</span></div>
<div class="c" style="left:335px;top:303px;width:41px;line-height:16px;font-size:12px"><span>4.6</span></div>
<div class="c" style="left:377px;top:303px;width:49px;line-height:16px;font-size:12px"><span>0.0</span></div>
<div class="c" style="left:427px;top:303px;width:39px;line-height:16px;font-size:12px"><span>0</span></div>
<div class="c" style="left:467px;top:303px;width:40px;line-height:16px;font-size:12px"><span style="transform:scaleX(0.8818)">11</span></div>
<div class="c" style="left:508px;top:303px;width:45px;line-height:16px;font-size:12px"><span style="transform:scaleX(0.9536)">11:50</span></div>
<div class="c" style="left:554px;top:303px;width:42px;line-height:16px;font-size:12px"><span>WSW</span></div>
<div class="c" style="left:597px;top:303px;width:50px;line-height:16px;font-size:12px"><span style="transform:scaleX(0.9629)">1018.6</span></div>
<div class="c" style="left:648px;top:303px;width:49px;line-height:16px;font-size:12px"><span>79</span></div>
<div class="c" style="left:698px;top:303px;width:46px;line-height:16px;font-size:12px"><span>0.0</span></div>
<div class="c" style="left:745px;top:303px;width:45px;line-height:16px;font-size:12px"><span>0.0</span></div>
<div class="c" style="left:791px;top:303px;width:81px;line-height:16px;font-size:12px;-webkit-text-stroke:0"><span style="transform:scaleX(1.0585)">SUNNY</span></div>
<div class="c" style="left:10px;top:320px;width:33px;line-height:16px;font-size:12px"><span style="transform:scaleX(0.9833)">15</span></div>
<div class="c" style="left:44px;top:320px;width:43px;line-height:16px;font-size:12px"><span>10.4</span></div>
<div class="c" style="left:88px;top:320px;width:33px;line-height:16px;font-size:12px"><span>15.4</span></div>
<div class="c" style="left:122px;top:320px;width:45px;line-height:16px;font-size:12px"><span style="transform:scaleX(0.9552)">12:14</span></div>
<div class="c" style="left:168px;top:320px;width:37px;line-height:16px;font-size:12px"><span>5.3</span></div>
<div class="c" style="left:206px;top:320px;width:45px;line-height:16px;font-size:12px"><span>05:45</span></div>
<div class="c" style="left:252px;top:320px;width:41px;line-height:16px;font-size:12px"><span>7.6</span></div>
<div class="c" style="left:294px;top:320px;width:40px;line-height:16px;font-size:12px"><span>0.0</span></div>
<div class="c" style="left:335px;top:320px;width:41px;line-height:16px;font-size:12px"><span>5.4</span></div>
<div class="c" style="left:377px;top:320px;width:49px;line-height:16px;font-size:12px"><span>0.0</span></div>
<div class="c" style="left:427px;top:320px;width:39px;line-height:16px;font-size:12px"><span>0</span></div>
<div class="c" style="left:467px;top:320px;width:40px;line-height:16px;font-size:12px"><span style="transform:scaleX(0.9083)">21</span></div>
<div class="c" style="left:508px;top:320px;width:45px;line-height:16px;font-size:12px"><span>16:38</span></div>
<div class="c" style="left:554px;top:320px;width:42px;line-height:16px;font-size:12px"><span>ENE</span></div>
<div class="c" style="left:597px;top:320px;width:50px;line-height:16px;font-size:12px"><span>1020.3</span></div>
<div class="c" style="left:648px;top:320px;width:49px;line-height:16px;font-size:12px"><span>76</span></div>
<div class="c" style="left:698px;top:320px;width:46px;line-height:16px;font-size:12px"><span>0.0</span></div>
<div class="c" style="left:745px;top:320px;width:45px;line-height:16px;font-size:12px"><span>0.0</span></div>
<div class="c" style="left:791px;top:320px;width:81px;line-height:16px;font-size:12px;-webkit-text-stroke:0"><span style="transform:scaleX(1.0585)">SUNNY</span></div>
<div class="c" style="left:10px;top:337px;width:33px;line-height:16px;font-size:12px"><span style="transform:scaleX(0.9833)">16</span></div>
<div class="c" style="left:44px;top:337px;width:43px;line-height:16px;font-size:12px"><span>9.9</span></div>
<div class="c" style="left:88px;top:337px;width:33px;line-height:16px;font-size:12px"><span style="transform:scaleX(0.9409)">15.1</span></div>
<div class="c" style="left:122px;top:337px;width:45px;line-height:16px;font-size:12px"><span style="transform:scaleX(0.9552)">16:21</span></div>
<div class="c" style="left:168px;top:337px;width:37px;line-height:16px;font-size:12px"><span>4.7</span></div>
<div class="c" style="left:206px;top:337px;width:45px;line-height:16px;font-size:12px"><span>05:20</span></div>
<div class="c" style="left:252px;top:337px;width:41px;line-height:16px;font-size:12px"><span style="transform:scaleX(0.9313)">8.1</span></div>
<div class="c" style="left:294px;top:337px;width:40px;line-height:16px;font-size:12px"><span>0.0</span></div>
<div class="c" style="left:335px;top:337px;width:41px;line-height:16px;font-size:12px"><span>4.9</span></div>
<div class="c" style="left:377px;top:337px;width:49px;line-height:16px;font-size:12px"><span>0.0</span></div>
<div class="c" style="left:427px;top:337px;width:39px;line-height:16px;font-size:12px"><span>0</span></div>
<div class="c" style="left:467px;top:337px;width:40px;line-height:16px;font-size:12px"><span style="transform:scaleX(0.9833)">14</span></div>
<div class="c" style="left:508px;top:337px;width:45px;line-height:16px;font-size:12px"><span>10:05</span></div>
<div class="c" style="left:554px;top:337px;width:42px;line-height:16px;font-size:12px"><span>ENE</span></div>
<div class="c" style="left:597px;top:337px;width:50px;line-height:16px;font-size:12px"><span style="transform:scaleX(0.9629)">1017.9</span></div>
<div class="c" style="left:648px;top:337px;width:49px;line-height:16px;font-size:12px"><span style="transform:scaleX(0.9154)">81</span></div>
<div class="c" style="left:698px;top:337px;width:46px;line-height:16px;font-size:12px"><span>0.0</span></div>
<div class="c" style="left:745px;top:337px;width:45px;line-height:16px;font-size:12px"><span>0.0</span></div>
<div class="c" style="left:791px;top:337px;width:81px;line-height:16px;font-size:12px;-webkit-text-stroke:0"><span style="transform:scaleX(1.0585)">SUNNY</span></div>
<div class="c" style="left:10px;top:354px;width:33px;line-height:16px;font-size:12px"><span style="transform:scaleX(0.9833)">17</span></div>
<div class="c" style="left:44px;top:354px;width:43px;line-height:16px;font-size:12px"><span>9.0</span></div>
<div class="c" style="left:88px;top:354px;width:33px;line-height:16px;font-size:12px"><span>12.2</span></div>
<div class="c" style="left:122px;top:354px;width:45px;line-height:16px;font-size:12px"><span style="transform:scaleX(0.9552)">18:15</span></div>
<div class="c" style="left:168px;top:354px;width:37px;line-height:16px;font-size:12px"><span>5.8</span></div>
<div class="c" style="left:206px;top:354px;width:45px;line-height:16px;font-size:12px"><span style="transform:scaleX(0.9633)">05:12</span></div>
<div class="c" style="left:252px;top:354px;width:41px;line-height:16px;font-size:12px"><span>9.0</span></div>
<div class="c" style="left:294px;top:354px;width:40px;line-height:16px;font-size:12px"><span>0.0</span></div>
<div class="c" style="left:335px;top:354px;width:41px;line-height:16px;font-size:12px"><span>4.0</span></div>
<div class="c" style="left:377px;top:354px;width:49px;line-height:16px;font-size:12px"><span>4.8</span></div>
<div class="c" style="left:427px;top:354px;width:39px;line-height:16px;font-size:12px"><span>0</span></div>
<div class="c" style="left:467px;top:354px;width:40px;line-height:16px;font-size:12px"><span style="transform:scaleX(0.9833)">13</span></div>
<div class="c" style="left:508px;top:354px;width:45px;line-height:16px;font-size:12px"><span>10:09</span></div>
<div class="c" style="left:554px;top:354px;width:42px;line-height:16px;font-size:12px"><span>S</span></div>
<div class="c" style="left:597px;top:354px;width:50px;line-height:16px;font-size:12px"><span style="transform:scaleX(0.9629)">1014.9</span></div>
<div class="c" style="left:648px;top:354px;width:49px;line-height:16px;font-size:12px"><span>92</span></div>
<div class="c" style="left:698px;top:354px;width:46px;line-height:16px;font-size:12px"><span>4.8</span></div>
<div class="c" style="left:745px;top:354px;width:45px;line-height:16px;font-size:12px"><span>0.0</span></div>
<div class="c" style="left:791px;top:354px;width:81px;line-height:16px;font-size:12px;-webkit-text-stroke:0"><span>SHRA</span></div>
<div class="c" style="left:10px;top:371px;width:33px;line-height:16px;font-size:12px"><span style="transform:scaleX(0.9833)">18</span></div>
<div class="c" style="left:44px;top:371px;width:43px;line-height:16px;font-size:12px"><span>10.8</span></div>
<div class="c" style="left:88px;top:371px;width:33px;line-height:16px;font-size:12px"><span>14.9</span></div>
<div class="c" style="left:122px;top:371px;width:45px;line-height:16px;font-size:12px"><span>16:02</span></div>
<div class="c" style="left:168px;top:371px;width:37px;line-height:16px;font-size:12px"><span>6.6</span></div>
<div class="c" style="left:206px;top:371px;width:45px;line-height:16px;font-size:12px"><span style="transform:scaleX(0.9633)">01:27</span></div>
<div class="c" style="left:252px;top:371px;width:41px;line-height:16px;font-size:12px"><span>7.2</span></div>
<div class="c" style="left:294px;top:371px;width:40px;line-height:16px;font-size:12px"><span>0.0</span></div>
<div class="c" style="left:335px;top:371px;width:41px;line-height:16px;font-size:12px"><span>5.8</span></div>
<div class="c" style="left:377px;top:371px;width:49px;line-height:16px;font-size:12px"><span>0.0</span></div>
<div class="c" style="left:427px;top:371px;width:39px;line-height:16px;font-size:12px"><span>0</span></div>
<div class="c" style="left:467px;top:371px;width:40px;line-height:16px;font-size:12px"><span style="transform:scaleX(0.9833)">18</span></div>
<div class="c" style="left:508px;top:371px;width:45px;line-height:16px;font-size:12px"><span>12:53</span></div>
<div class="c" style="left:554px;top:371px;width:42px;line-height:16px;font-size:12px"><span>SSW</span></div>
<div class="c" style="left:597px;top:371px;width:50px;line-height:16px;font-size:12px"><span style="transform:scaleX(0.9629)">1015.2</span></div>
<div class="c" style="left:648px;top:371px;width:49px;line-height:16px;font-size:12px"><span>84</span></div>
<div class="c" style="left:698px;top:371px;width:46px;line-height:16px;font-size:12px"><span>0.0</span></div>
<div class="c" style="left:745px;top:371px;width:45px;line-height:16px;font-size:12px"><span>0.0</span></div>
<div class="c" style="left:791px;top:371px;width:81px;line-height:16px;font-size:12px;-webkit-text-stroke:0"><span style="transform:scaleX(0.9484)">CLDY</span></div>
<div class="c" style="left:10px;top:388px;width:33px;line-height:16px;font-size:12px"><span style="transform:scaleX(0.9833)">19</span></div>
<div class="c" style="left:44px;top:388px;width:43px;line-height:16px;font-size:12px"><span>13.9</span></div>
<div class="c" style="left:88px;top:388px;width:33px;line-height:16px;font-size:12px"><span>19.4</span></div>
<div class="c" style="left:122px;top:388px;width:45px;line-height:16px;font-size:12px"><span>14:38</span></div>
<div class="c" style="left:168px;top:388px;width:37px;line-height:16px;font-size:12px"><span>8.3</span></div>
<div class="c" style="left:206px;top:388px;width:45px;line-height:16px;font-size:12px"><span>06:07</span></div>
<div class="c" style="left:252px;top:388px;width:41px;line-height:16px;font-size:12px"><span style="transform:scaleX(0.9313)">4.1</span></div>
<div class="c" style="left:294px;top:388px;width:40px;line-height:16px;font-size:12px"><span>0.0</span></div>
<div class="c" style="left:335px;top:388px;width:41px;line-height:16px;font-size:12px"><span>8.9</span></div>
<div class="c" style="left:377px;top:388px;width:49px;line-height:16px;font-size:12px"><span>3.2</span></div>
<div class="c" style="left:427px;top:388px;width:39px;line-height:16px;font-size:12px"><span style="transform:scaleX(0.9600)">1</span></div>
<div class="c" style="left:467px;top:388px;width:40px;line-height:16px;font-size:12px"><span style="transform:scaleX(0.9083)">31</span></div>
<div class="c" style="left:508px;top:388px;width:45px;line-height:16px;font-size:12px"><span style="transform:scaleX(0.9621)">21:57</span></div>
<div class="c" style="left:554px;top:388px;width:42px;line-height:16px;font-size:12px"><span>ENE</span></div>
<div class="c" style="left:597px;top:388px;width:50px;line-height:16px;font-size:12px"><span>1008.2</span></div>
<div class="c" style="left:648px;top:388px;width:49px;line-height:16px;font-size:12px"><span>73</span></div>
<div class="c" style="left:698px;top:388px;width:46px;line-height:16px;font-size:12px"><span>3.2</span></div>
<div class="c" style="left:745px;top:388px;width:45px;line-height:16px;font-size:12px"><span>0.0</span></div>
<div class="c" style="left:791px;top:388px;width:81px;line-height:16px;font-size:12px;-webkit-text-stroke:0"><span style="transform:scaleX(0.9523)">PDS RA</span></div>
<div class="c" style="left:10px;top:405px;width:33px;line-height:16px;font-size:12px"><span>20</span></div>
<div class="c" style="left:44px;top:405px;width:43px;line-height:16px;font-size:12px"><span style="transform:scaleX(0.9409)">10.1</span></div>
<div class="c" style="left:88px;top:405px;width:33px;line-height:16px;font-size:12px"><span>12.4</span></div>
<div class="c" style="left:122px;top:405px;width:45px;line-height:16px;font-size:12px"><span style="transform:scaleX(0.9536)">11:43</span></div>
<div class="c" style="left:168px;top:405px;width:37px;line-height:16px;font-size:12px"><span>7.8</span></div>
<div class="c" style="left:206px;top:405px;width:45px;line-height:16px;font-size:12px"><span>23:39</span></div>
<div class="c" style="left:252px;top:405px;width:41px;line-height:16px;font-size:12px"><span>7.9</span></div>
<div class="c" style="left:294px;top:405px;width:40px;line-height:16px;font-size:12px"><span>0.0</span></div>
<div class="c" style="left:335px;top:405px;width:41px;line-height:16px;font-size:12px"><span style="transform:scaleX(0.9267)">5.1</span></div>
<div class="c" style="left:377px;top:405px;width:49px;line-height:16px;font-size:12px"><span>10.4</span></div>
<div class="c" style="left:427px;top:405px;width:39px;line-height:16px;font-size:12px"><span>2</span></div>
<div class="c" style="left:467px;top:405px;width:40px;line-height:16px;font-size:12px"><span>34</span></div>
<div class="c" style="left:508px;top:405px;width:45px;line-height:16px;font-size:12px"><span style="transform:scaleX(0.9621)">20:18</span></div>
<div class="c" style="left:554px;top:405px;width:42px;line-height:16px;font-size:12px"><span>W</span></div>
<div class="c" style="left:597px;top:405px;width:50px;line-height:16px;font-size:12px"><span style="transform:scaleX(0.9314)">1010.1</span></div>
<div class="c" style="left:648px;top:405px;width:49px;line-height:16px;font-size:12px"><span>90</span></div>
<div class="c" style="left:698px;top:405px;width:46px;line-height:16px;font-size:12px"><span>10.4</span></div>
<div class="c" style="left:745px;top:405px;width:45px;line-height:16px;font-size:12px"><span>0.0</span></div>
<div class="c" style="left:791px;top:405px;width:81px;line-height:16px;font-size:12px;-webkit-text-stroke:0"><span style="transform:scaleX(0.9523)">PDS RA</span></div>
<div class="c" style="left:10px;top:422px;width:33px;line-height:16px;font-size:12px"><span style="transform:scaleX(0.9083)">21</span></div>
<div class="c" style="left:44px;top:422px;width:43px;line-height:16px;font-size:12px"><span>9.5</span></div>
<div class="c" style="left:88px;top:422px;width:33px;line-height:16px;font-size:12px"><span>12.9</span></div>
<div class="c" style="left:122px;top:422px;width:45px;line-height:16px;font-size:12px"><span>15:55</span></div>
<div class="c" style="left:168px;top:422px;width:37px;line-height:16px;font-size:12px"><span style="transform:scaleX(0.9267)">6.1</span></div>
<div class="c" style="left:206px;top:422px;width:45px;line-height:16px;font-size:12px"><span>20:45</span></div>
<div class="c" style="left:252px;top:422px;width:41px;line-height:16px;font-size:12px"><span>8.5</span></div>
<div class="c" style="left:294px;top:422px;width:40px;line-height:16px;font-size:12px"><span>0.0</span></div>
<div class="c" style="left:335px;top:422px;width:41px;line-height:16px;font-size:12px"><span>4.5</span></div>
<div class="c" style="left:377px;top:422px;width:49px;line-height:16px;font-size:12px"><span>0.0</span></div>
<div class="c" style="left:427px;top:422px;width:39px;line-height:16px;font-size:12px"><span>4</span></div>
<div class="c" style="left:467px;top:422px;width:40px;line-height:16px;font-size:12px"><span>35</span></div>
<div class="c" style="left:508px;top:422px;width:45px;line-height:16px;font-size:12px"><span>09:38</span></div>
<div class="c" style="left:554px;top:422px;width:42px;line-height:16px;font-size:12px"><span>W</span></div>
<div class="c" style="left:597px;top:422px;width:50px;line-height:16px;font-size:12px"><span style="transform:scaleX(0.9629)">1013.8</span></div>
<div class="c" style="left:648px;top:422px;width:49px;line-height:16px;font-size:12px"><span>65</span></div>
<div class="c" style="left:698px;top:422px;width:46px;line-height:16px;font-size:12px"><span>0.0</span></div>
<div class="c" style="left:745px;top:422px;width:45px;line-height:16px;font-size:12px"><span>0.0</span></div>
<div class="c" style="left:791px;top:422px;width:81px;line-height:16px;font-size:12px;-webkit-text-stroke:0"><span style="transform:scaleX(1.0585)">SUNNY</span></div>
<div class="c" style="left:10px;top:439px;width:33px;line-height:16px;font-size:12px"><span>22</span></div>
<div class="c" style="left:44px;top:439px;width:43px;line-height:16px;font-size:12px"><span>9.2</span></div>
<div class="c" style="left:88px;top:439px;width:33px;line-height:16px;font-size:12px"><span>12.6</span></div>
<div class="c" style="left:122px;top:439px;width:45px;line-height:16px;font-size:12px"><span>13:42</span></div>
<div class="c" style="left:168px;top:439px;width:37px;line-height:16px;font-size:12px"><span>5.7</span></div>
<div class="c" style="left:206px;top:439px;width:45px;line-height:16px;font-size:12px"><span>00:56</span></div>
<div class="c" style="left:252px;top:439px;width:41px;line-height:16px;font-size:12px"><span>8.8</span></div>
<div class="c" style="left:294px;top:439px;width:40px;line-height:16px;font-size:12px"><span>0.0</span></div>
<div class="c" style="left:335px;top:439px;width:41px;line-height:16px;font-size:12px"><span>4.2</span></div>
<div class="c" style="left:377px;top:439px;width:49px;line-height:16px;font-size:12px"><span>0.0</span></div>
<div class="c" style="left:427px;top:439px;width:39px;line-height:16px;font-size:12px"><span>3</span></div>
<div class="c" style="left:467px;top:439px;width:40px;line-height:16px;font-size:12px"><span>29</span></div>
<div class="c" style="left:508px;top:439px;width:45px;line-height:16px;font-size:12px"><span style="transform:scaleX(0.9536)">11:23</span></div>
<div class="c" style="left:554px;top:439px;width:42px;line-height:16px;font-size:12px"><span>W</span></div>
<div class="c" style="left:597px;top:439px;width:50px;line-height:16px;font-size:12px"><span style="transform:scaleX(0.9639)">1018.4</span></div>
<div class="c" style="left:648px;top:439px;width:49px;line-height:16px;font-size:12px"><span>62</span></div>
<div class="c" style="left:698px;top:439px;width:46px;line-height:16px;font-size:12px"><span>0.0</span></div>
<div class="c" style="left:745px;top:439px;width:45px;line-height:16px;font-size:12px"><span>0.0</span></div>
<div class="c" style="left:791px;top:439px;width:81px;line-height:16px;font-size:12px;-webkit-text-stroke:0"><span style="transform:scaleX(1.0585)">SUNNY</span></div>
<div class="c" style="left:10px;top:456px;width:33px;line-height:16px;font-size:12px"><span>23</span></div>
<div class="c" style="left:44px;top:456px;width:43px;line-height:16px;font-size:12px"><span>6.5</span></div>
<div class="c" style="left:88px;top:456px;width:33px;line-height:16px;font-size:12px"><span>10.2</span></div>
<div class="c" style="left:122px;top:456px;width:45px;line-height:16px;font-size:12px"><span style="transform:scaleX(0.9536)">11:04</span></div>
<div class="c" style="left:168px;top:456px;width:37px;line-height:16px;font-size:12px"><span>2.8</span></div>
<div class="c" style="left:206px;top:456px;width:45px;line-height:16px;font-size:12px"><span>05:34</span></div>
<div class="c" style="left:252px;top:456px;width:41px;line-height:16px;font-size:12px"><span style="transform:scaleX(0.9381)">11.5</span></div>
<div class="c" style="left:294px;top:456px;width:40px;line-height:16px;font-size:12px"><span>0.0</span></div>
<div class="c" style="left:335px;top:456px;width:41px;line-height:16px;font-size:12px"><span style="transform:scaleX(0.9867)">1.5</span></div>
<div class="c" style="left:377px;top:456px;width:49px;line-height:16px;font-size:12px"><span style="transform:scaleX(0.9867)">1.0</span></div>
<div class="c" style="left:427px;top:456px;width:39px;line-height:16px;font-size:12px"><span style="transform:scaleX(0.9600)">1</span></div>
<div class="c" style="left:467px;top:456px;width:40px;line-height:16px;font-size:12px"><span>32</span></div>
<div class="c" style="left:508px;top:456px;width:45px;line-height:16px;font-size:12px"><span>14:43</span></div>
<div class="c" style="left:554px;top:456px;width:42px;line-height:16px;font-size:12px"><span>W</span></div>
<div class="c" style="left:597px;top:456px;width:50px;line-height:16px;font-size:12px"><span style="transform:scaleX(0.9629)">1016.9</span></div>
<div class="c" style="left:648px;top:456px;width:49px;line-height:16px;font-size:12px"><span>76</span></div>
<div class="c" style="left:698px;top:456px;width:46px;line-height:16px;font-size:12px"><span style="transform:scaleX(0.9867)">1.0</span></div>
<div class="c" style="left:745px;top:456px;width:45px;line-height:16px;font-size:12px"><span>0.0</span></div>
<div class="c" style="left:791px;top:456px;width:81px;line-height:16px;font-size:12px;-webkit-text-stroke:0"><span style="transform:scaleX(0.9484)">CLDY</span></div>
<div class="c" style="left:10px;top:473px;width:33px;line-height:16px;font-size:12px"><span>24</span></div>
<div class="c" style="left:44px;top:473px;width:43px;line-height:16px;font-size:12px"><span style="transform:scaleX(0.9267)">7.1</span></div>
<div class="c" style="left:88px;top:473px;width:33px;line-height:16px;font-size:12px"><span style="transform:scaleX(0.9381)">11.3</span></div>
<div class="c" style="left:122px;top:473px;width:45px;line-height:16px;font-size:12px"><span>15:49</span></div>
<div class="c" style="left:168px;top:473px;width:37px;line-height:16px;font-size:12px"><span>2.9</span></div>
<div class="c" style="left:206px;top:473px;width:45px;line-height:16px;font-size:12px"><span>04:59</span></div>
<div class="c" style="left:252px;top:473px;width:41px;line-height:16px;font-size:12px"><span>10.9</span></div>
<div class="c" style="left:294px;top:473px;width:40px;line-height:16px;font-size:12px"><span>0.0</span></div>
<div class="c" style="left:335px;top:473px;width:41px;line-height:16px;font-size:12px"><span style="transform:scaleX(0.9267)">2.1</span></div>
<div class="c" style="left:377px;top:473px;width:49px;line-height:16px;font-size:12px"><span>0.4</span></div>
<div class="c" style="left:427px;top:473px;width:39px;line-height:16px;font-size:12px"><span style="transform:scaleX(0.9600)">1</span></div>
<div class="c" style="left:467px;top:473px;width:40px;line-height:16px;font-size:12px"><span>37</span></div>
<div class="c" style="left:508px;top:473px;width:45px;line-height:16px;font-size:12px"><span>12:42</span></div>
<div class="c" style="left:554px;top:473px;width:42px;line-height:16px;font-size:12px"><span>NW</span></div>
<div class="c" style="left:597px;top:473px;width:50px;line-height:16px;font-size:12px"><span style="transform:scaleX(0.9629)">1019.9</span></div>
<div class="c" style="left:648px;top:473px;width:49px;line-height:16px;font-size:12px"><span>74</span></div>
<div class="c" style="left:698px;top:473px;width:46px;line-height:16px;font-size:12px"><span>0.4</span></div>
<div class="c" style="left:745px;top:473px;width:45px;line-height:16px;font-size:12px"><span>0.0</span></div>
<div class="c" style="left:791px;top:473px;width:81px;line-height:16px;font-size:12px;-webkit-text-stroke:0"><span style="transform:scaleX(0.9484)">CLDY</span></div>
<div class="c" style="left:10px;top:490px;width:33px;line-height:16px;font-size:12px"><span>25</span></div>
<div class="c" style="left:44px;top:490px;width:43px;line-height:16px;font-size:12px"><span>7.6</span></div>
<div class="c" style="left:88px;top:490px;width:33px;line-height:16px;font-size:12px"><span style="transform:scaleX(0.9381)">11.2</span></div>
<div class="c" style="left:122px;top:490px;width:45px;line-height:16px;font-size:12px"><span>16:50</span></div>
<div class="c" style="left:168px;top:490px;width:37px;line-height:16px;font-size:12px"><span>3.9</span></div>
<div class="c" style="left:206px;top:490px;width:45px;line-height:16px;font-size:12px"><span>00:00</span></div>
<div class="c" style="left:252px;top:490px;width:41px;line-height:16px;font-size:12px"><span>10.4</span></div>
<div class="c" style="left:294px;top:490px;width:40px;line-height:16px;font-size:12px"><span>0.0</span></div>
<div class="c" style="left:335px;top:490px;width:41px;line-height:16px;font-size:12px"><span>2.6</span></div>
<div class="c" style="left:377px;top:490px;width:49px;line-height:16px;font-size:12px"><span>0.0</span></div>
<div class="c" style="left:427px;top:490px;width:39px;line-height:16px;font-size:12px"><span style="transform:scaleX(0.9600)">1</span></div>
<div class="c" style="left:467px;top:490px;width:40px;line-height:16px;font-size:12px"><span style="transform:scaleX(0.9833)">16</span></div>
<div class="c" style="left:508px;top:490px;width:45px;line-height:16px;font-size:12px"><span>15:39</span></div>
<div class="c" style="left:554px;top:490px;width:42px;line-height:16px;font-size:12px"><span>NE</span></div>
<div class="c" style="left:597px;top:490px;width:50px;line-height:16px;font-size:12px"><span>1025.0</span></div>
<div class="c" style="left:648px;top:490px;width:49px;line-height:16px;font-size:12px"><span>74</span></div>
<div class="c" style="left:698px;top:490px;width:46px;line-height:16px;font-size:12px"><span>0.0</span></div>
<div class="c" style="left:745px;top:490px;width:45px;line-height:16px;font-size:12px"><span>0.0</span></div>
<div class="c" style="left:791px;top:490px;width:81px;line-height:16px;font-size:12px;-webkit-text-stroke:0"><span style="transform:scaleX(0.9484)">CLDY</span></div>
<div class="c" style="left:10px;top:507px;width:33px;line-height:16px;font-size:12px"><span>26</span></div>
<div class="c" style="left:44px;top:507px;width:43px;line-height:16px;font-size:12px"><span style="transform:scaleX(0.9381)">11.8</span></div>
<div class="c" style="left:88px;top:507px;width:33px;line-height:16px;font-size:12px"><span>14.7</span></div>
<div class="c" style="left:122px;top:507px;width:45px;line-height:16px;font-size:12px"><span>13:08</span></div>
<div class="c" style="left:168px;top:507px;width:37px;line-height:16px;font-size:12px"><span>8.8</span></div>
<div class="c" style="left:206px;top:507px;width:45px;line-height:16px;font-size:12px"><span>23:34</span></div>
<div class="c" style="left:252px;top:507px;width:41px;line-height:16px;font-size:12px"><span>6.2</span></div>
<div class="c" style="left:294px;top:507px;width:40px;line-height:16px;font-size:12px"><span>0.0</span></div>
<div class="c" style="left:335px;top:507px;width:41px;line-height:16px;font-size:12px"><span>6.8</span></div>
<div class="c" style="left:377px;top:507px;width:49px;line-height:16px;font-size:12px"><span>6.8</span></div>
<div class="c" style="left:427px;top:507px;width:39px;line-height:16px;font-size:12px"><span>2</span></div>
<div class="c" style="left:467px;top:507px;width:40px;line-height:16px;font-size:12px"><span>32</span></div>
<div class="c" style="left:508px;top:507px;width:45px;line-height:16px;font-size:12px"><span>08:35</span></div>
<div class="c" style="left:554px;top:507px;width:42px;line-height:16px;font-size:12px"><span>S</span></div>
<div class="c" style="left:597px;top:507px;width:50px;line-height:16px;font-size:12px"><span>1005.3</span></div>
<div class="c" style="left:648px;top:507px;width:49px;line-height:16px;font-size:12px"><span>65</span></div>
<div class="c" style="left:698px;top:507px;width:46px;line-height:16px;font-size:12px"><span>6.8</span></div>
<div class="c" style="left:745px;top:507px;width:45px;line-height:16px;font-size:12px"><span>0.0</span></div>
<div class="c" style="left:791px;top:507px;width:81px;line-height:16px;font-size:12px;-webkit-text-stroke:0"><span style="transform:scaleX(0.9484)">CLDY</span></div>
<div class="c" style="left:10px;top:524px;width:33px;line-height:16px;font-size:12px"><span>27</span></div>
<div class="c" style="left:44px;top:524px;width:43px;line-height:16px;font-size:12px"><span>9.3</span></div>
<div class="c" style="left:88px;top:524px;width:33px;line-height:16px;font-size:12px"><span>12.9</span></div>
<div class="c" style="left:122px;top:524px;width:45px;line-height:16px;font-size:12px"><span>13:46</span></div>
<div class="c" style="left:168px;top:524px;width:37px;line-height:16px;font-size:12px"><span>5.7</span></div>
<div class="c" style="left:206px;top:524px;width:45px;line-height:16px;font-size:12px"><span>06:39</span></div>
<div class="c" style="left:252px;top:524px;width:41px;line-height:16px;font-size:12px"><span>8.7</span></div>
<div class="c" style="left:294px;top:524px;width:40px;line-height:16px;font-size:12px"><span>0.0</span></div>
<div class="c" style="left:335px;top:524px;width:41px;line-height:16px;font-size:12px"><span>4.3</span></div>
<div class="c" style="left:377px;top:524px;width:49px;line-height:16px;font-size:12px"><span>17.4</span></div>
<div class="c" style="left:427px;top:524px;width:39px;line-height:16px;font-size:12px"><span>2</span></div>
<div class="c" style="left:467px;top:524px;width:40px;line-height:16px;font-size:12px"><span style="transform:scaleX(0.9083)">31</span></div>
<div class="c" style="left:508px;top:524px;width:45px;line-height:16px;font-size:12px"><span style="transform:scaleX(0.9552)">16:31</span></div>
<div class="c" style="left:554px;top:524px;width:42px;line-height:16px;font-size:12px"><span>WSW</span></div>
<div class="c" style="left:597px;top:524px;width:50px;line-height:16px;font-size:12px"><span>994.8</span></div>
<div class="c" style="left:648px;top:524px;width:49px;line-height:16px;font-size:12px"><span>78</span></div>
<div class="c" style="left:698px;top:524px;width:46px;line-height:16px;font-size:12px"><span>17.4</span></div>
<div class="c" style="left:745px;top:524px;width:45px;line-height:16px;font-size:12px"><span>0.0</span></div>
<div class="c" style="left:791px;top:524px;width:81px;line-height:16px;font-size:12px;-webkit-text-stroke:0"><span style="transform:scaleX(0.9523)">PDS RA</span></div>
<div class="c" style="left:10px;top:541px;width:33px;line-height:16px;font-size:12px"><span>28</span></div>
<div class="c" style="left:44px;top:541px;width:43px;line-height:16px;font-size:12px"><span>6.8</span></div>
<div class="c" style="left:88px;top:541px;width:33px;line-height:16px;font-size:12px"><span>9.4</span></div>
<div class="c" style="left:122px;top:541px;width:45px;line-height:16px;font-size:12px"><span>16:26</span></div>
<div class="c" style="left:168px;top:541px;width:37px;line-height:16px;font-size:12px"><span>4.2</span></div>
<div class="c" style="left:206px;top:541px;width:45px;line-height:16px;font-size:12px"><span>04:23</span></div>
<div class="c" style="left:252px;top:541px;width:41px;line-height:16px;font-size:12px"><span style="transform:scaleX(0.9381)">11.2</span></div>
<div class="c" style="left:294px;top:541px;width:40px;line-height:16px;font-size:12px"><span>0.0</span></div>
<div class="c" style="left:335px;top:541px;width:41px;line-height:16px;font-size:12px"><span style="transform:scaleX(0.9867)">1.8</span></div>
<div class="c" style="left:377px;top:541px;width:49px;line-height:16px;font-size:12px"><span>3.6</span></div>
<div class="c" style="left:427px;top:541px;width:39px;line-height:16px;font-size:12px"><span>0</span></div>
<div class="c" style="left:467px;top:541px;width:40px;line-height:16px;font-size:12px"><span style="transform:scaleX(0.9833)">14</span></div>
<div class="c" style="left:508px;top:541px;width:45px;line-height:16px;font-size:12px"><span>16:45</span></div>
<div class="c" style="left:554px;top:541px;width:42px;line-height:16px;font-size:12px"><span>NW</span></div>
<div class="c" style="left:597px;top:541px;width:50px;line-height:16px;font-size:12px"><span>1005.4</span></div>
<div class="c" style="left:648px;top:541px;width:49px;line-height:16px;font-size:12px"><span>88</span></div>
<div class="c" style="left:698px;top:541px;width:46px;line-height:16px;font-size:12px"><span>3.6</span></div>
<div class="c" style="left:745px;top:541px;width:45px;line-height:16px;font-size:12px"><span>0.0</span></div>
<div class="c" style="left:791px;top:541px;width:81px;line-height:16px;font-size:12px;-webkit-text-stroke:0"><span>SHRA</span></div>
<div class="c" style="left:10px;top:558px;width:33px;line-height:16px;font-size:12px"><span>29</span></div>
<div class="c" style="left:44px;top:558px;width:43px;line-height:16px;font-size:12px"><span style="transform:scaleX(0.9313)">8.1</span></div>
<div class="c" style="left:88px;top:558px;width:33px;line-height:16px;font-size:12px"><span>12.7</span></div>
<div class="c" style="left:122px;top:558px;width:45px;line-height:16px;font-size:12px"><span>17:06</span></div>
<div class="c" style="left:168px;top:558px;width:37px;line-height:16px;font-size:12px"><span>3.4</span></div>
<div class="c" style="left:206px;top:558px;width:45px;line-height:16px;font-size:12px"><span style="transform:scaleX(0.9633)">06:12</span></div>
<div class="c" style="left:252px;top:558px;width:41px;line-height:16px;font-size:12px"><span>9.9</span></div>
<div class="c" style="left:294px;top:558px;width:40px;line-height:16px;font-size:12px"><span>0.0</span></div>
<div class="c" style="left:335px;top:558px;width:41px;line-height:16px;font-size:12px"><span style="transform:scaleX(0.9267)">3.1</span></div>
<div class="c" style="left:377px;top:558px;width:49px;line-height:16px;font-size:12px"><span>0.0</span></div>
<div class="c" style="left:427px;top:558px;width:39px;line-height:16px;font-size:12px"><span style="transform:scaleX(0.9600)">1</span></div>
<div class="c" style="left:467px;top:558px;width:40px;line-height:16px;font-size:12px"><span>32</span></div>
<div class="c" style="left:508px;top:558px;width:45px;line-height:16px;font-size:12px"><span style="transform:scaleX(0.9633)">09:21</span></div>
<div class="c" style="left:554px;top:558px;width:42px;line-height:16px;font-size:12px"><span>W</span></div>
<div class="c" style="left:597px;top:558px;width:50px;line-height:16px;font-size:12px"><span style="transform:scaleX(0.9629)">1015.5</span></div>
<div class="c" style="left:648px;top:558px;width:49px;line-height:16px;font-size:12px"><span>73</span></div>
<div class="c" style="left:698px;top:558px;width:46px;line-height:16px;font-size:12px"><span>0.0</span></div>
<div class="c" style="left:745px;top:558px;width:45px;line-height:16px;font-size:12px"><span>0.0</span></div>
<div class="c" style="left:791px;top:558px;width:81px;line-height:16px;font-size:12px;-webkit-text-stroke:0"><span style="transform:scaleX(1.0585)">SUNNY</span></div>
<div class="c" style="left:10px;top:575px;width:33px;line-height:16px;font-size:12px"><span>30</span></div>
<div class="c" style="left:44px;top:575px;width:43px;line-height:16px;font-size:12px"><span>8.2</span></div>
<div class="c" style="left:88px;top:575px;width:33px;line-height:16px;font-size:12px"><span>12.0</span></div>
<div class="c" style="left:122px;top:575px;width:45px;line-height:16px;font-size:12px"><span>16:02</span></div>
<div class="c" style="left:168px;top:575px;width:37px;line-height:16px;font-size:12px"><span>4.3</span></div>
<div class="c" style="left:206px;top:575px;width:45px;line-height:16px;font-size:12px"><span>23:06</span></div>
<div class="c" style="left:252px;top:575px;width:41px;line-height:16px;font-size:12px"><span>9.8</span></div>
<div class="c" style="left:294px;top:575px;width:40px;line-height:16px;font-size:12px"><span>0.0</span></div>
<div class="c" style="left:335px;top:575px;width:41px;line-height:16px;font-size:12px"><span>3.2</span></div>
<div class="c" style="left:377px;top:575px;width:49px;line-height:16px;font-size:12px"><span style="transform:scaleX(0.9867)">1.6</span></div>
<div class="c" style="left:427px;top:575px;width:39px;line-height:16px;font-size:12px"><span style="transform:scaleX(0.9600)">1</span></div>
<div class="c" style="left:467px;top:575px;width:40px;line-height:16px;font-size:12px"><span>26</span></div>
<div class="c" style="left:508px;top:575px;width:45px;line-height:16px;font-size:12px"><span>17:46</span></div>
<div class="c" style="left:554px;top:575px;width:42px;line-height:16px;font-size:12px"><span>W</span></div>
<div class="c" style="left:597px;top:575px;width:50px;line-height:16px;font-size:12px"><span>1020.5</span></div>
<div class="c" style="left:648px;top:575px;width:49px;line-height:16px;font-size:12px"><span>79</span></div>
<div class="c" style="left:698px;top:575px;width:46px;line-height:16px;font-size:12px"><span style="transform:scaleX(0.9867)">1.6</span></div>
<div class="c" style="left:745px;top:575px;width:45px;line-height:16px;font-size:12px"><span>0.0</span></div>
<div class="c" style="left:791px;top:575px;width:81px;line-height:16px;font-size:12px;-webkit-text-stroke:0"><span>SHRA</span></div>
<div class="c" style="left:44px;top:608px;width:43px;line-height:16px;font-size:13px;font-weight:bold;letter-spacing:0.3px;-webkit-text-stroke:0"><span>7.9</span></div>
<div class="c" style="left:88px;top:608px;width:33px;line-height:16px;font-size:13px;font-weight:bold;letter-spacing:0.3px;-webkit-text-stroke:0"><span>19.4</span></div>
<div class="c" style="left:122px;top:608px;width:45px;line-height:16px;font-size:13px;font-weight:bold;letter-spacing:0.3px;-webkit-text-stroke:0"><span>19th</span></div>
<div class="c" style="left:168px;top:608px;width:37px;line-height:16px;font-size:13px;font-weight:bold;letter-spacing:0.3px;-webkit-text-stroke:0"><span>-0.7</span></div>
<div class="c" style="left:206px;top:608px;width:45px;line-height:16px;font-size:13px;font-weight:bold;letter-spacing:0.3px;-webkit-text-stroke:0"><span>9th</span></div>
<div class="c" style="left:252px;top:608px;width:41px;line-height:16px;font-size:13px;font-weight:bold;letter-spacing:0.3px;-webkit-text-stroke:0"><span>304.4</span></div>
<div class="c" style="left:294px;top:608px;width:40px;line-height:16px;font-size:13px;font-weight:bold;letter-spacing:0.3px;-webkit-text-stroke:0"><span>0.0</span></div>
<div class="c" style="left:335px;top:608px;width:41px;line-height:16px;font-size:13px;font-weight:bold;letter-spacing:0.3px;-webkit-text-stroke:0"><span>90.0</span></div>
<div class="c" style="left:377px;top:608px;width:49px;line-height:16px;font-size:13px;font-weight:bold;letter-spacing:0.3px;-webkit-text-stroke:0"><span>149.8</span></div>
<div class="c" style="left:427px;top:608px;width:39px;line-height:16px;font-size:13px;font-weight:bold;letter-spacing:0.3px;-webkit-text-stroke:0"><span>1.4</span></div>
<div class="c" style="left:467px;top:608px;width:40px;line-height:16px;font-size:13px;font-weight:bold;letter-spacing:0.3px;-webkit-text-stroke:0"><span>45</span></div>
<div class="c" style="left:508px;top:608px;width:45px;line-height:16px;font-size:13px;font-weight:bold;letter-spacing:0.3px;-webkit-text-stroke:0"><span>2nd</span></div>
<div class="c" style="left:554px;top:608px;width:42px;line-height:16px;font-size:13px;font-weight:bold;letter-spacing:0.3px;-webkit-text-stroke:0"><span>W</span></div>
<div class="c" style="left:597px;top:608px;width:50px;line-height:16px;font-size:13px;font-weight:bold;letter-spacing:0.3px;-webkit-text-stroke:0"><span>1012.9</span></div>
<div class="c" style="left:648px;top:608px;width:49px;line-height:16px;font-size:13px;font-weight:bold;letter-spacing:0.3px;-webkit-text-stroke:0"><span>77</span></div>
<div class="c" style="left:698px;top:608px;width:46px;line-height:16px;font-size:13px;font-weight:bold;letter-spacing:0.3px;-webkit-text-stroke:0"><span>147.8</span></div>
<div class="c" style="left:745px;top:608px;width:45px;line-height:16px;font-size:13px;font-weight:bold;letter-spacing:0.3px;-webkit-text-stroke:0"><span>2.0</span></div>
<div class="x" style="left:11.62px;top:642px;line-height:19px;font-size:12px;font-weight:bold;-webkit-text-stroke:0"><span style="transform:scaleX(1.0821);transform-origin:0 0">HEAT BASE:18</span></div>
<div class="x" style="left:12.70px;top:661px;line-height:19px;font-size:12px;font-weight:bold;-webkit-text-stroke:0"><span style="transform:scaleX(1.0330);transform-origin:0 0">COOL BASE:18</span></div>
<div class="x" style="left:12.70px;top:680px;line-height:19px;font-size:12px;font-weight:bold;-webkit-text-stroke:0"><span style="transform:scaleX(0.9894);transform-origin:0 0">GROW BASE 5</span></div>
<div class="x" style="left:124.40px;top:642px;line-height:19px;font-size:12px;font-weight:bold;-webkit-text-stroke:0"><span style="transform:scaleX(1.0128);transform-origin:0 0">Annual Heating Degree Days</span></div>
<div class="x" style="left:124.40px;top:661px;line-height:19px;font-size:12px;font-weight:bold;-webkit-text-stroke:0"><span style="transform:scaleX(0.9713);transform-origin:0 0">Annual Cooling Degree Days</span></div>
<div class="x" style="left:124.40px;top:680px;line-height:19px;font-size:12px;font-weight:bold;-webkit-text-stroke:0"><span style="transform:scaleX(0.9851);transform-origin:0 0">Annual Growing Degree Days</span></div>
<div class="x" style="left:314.51px;top:642px;line-height:19px;font-size:12px;font-weight:bold;-webkit-text-stroke:0"><span style="transform:scaleX(1.0917);transform-origin:0 0">1405.4</span></div>
<div class="x" style="left:326.60px;top:661px;line-height:19px;font-size:12px;font-weight:bold;-webkit-text-stroke:0"><span style="transform:scaleX(1.1500);transform-origin:0 0">0.0</span></div>
<div class="x" style="left:318.70px;top:680px;line-height:19px;font-size:12px;font-weight:bold;-webkit-text-stroke:0"><span style="transform:scaleX(1.1034);transform-origin:0 0">184.5</span></div>
<div class="x" style="left:389.70px;top:642px;line-height:19px;font-size:12px;font-weight:bold;-webkit-text-stroke:0"><span style="transform:scaleX(0.9256);transform-origin:0 0">Cumulative Annual Total Precipitation</span></div>
<div class="x" style="left:466.50px;top:661px;line-height:19px;font-size:12px;font-weight:bold;-webkit-text-stroke:0"><span style="transform:scaleX(0.8920);transform-origin:0 0">Cumulative Annual Rain</span></div>
<div class="x" style="left:417.00px;top:680px;line-height:19px;font-size:12px;font-weight:bold;-webkit-text-stroke:0"><span style="transform:scaleX(1.0011);transform-origin:0 0">Derived snow water equivalent</span></div>
<div class="x" style="left:631.50px;top:642px;line-height:19px;font-size:12px;font-weight:bold;-webkit-text-stroke:0"><span style="transform:scaleX(1.0767);transform-origin:0 0">830.4</span></div>
<div class="x" style="left:631.50px;top:661px;line-height:19px;font-size:12px;font-weight:bold;-webkit-text-stroke:0"><span style="transform:scaleX(1.0767);transform-origin:0 0">809.6</span></div>
<div class="x" style="left:634.70px;top:680px;line-height:19px;font-size:12px;font-weight:bold;-webkit-text-stroke:0"><span style="transform:scaleX(1.0870);transform-origin:0 0">20.8</span></div>
<div class="x" style="left:700.60px;top:642px;line-height:19px;font-size:12px;font-weight:bold;-webkit-text-stroke:0"><span style="transform:scaleX(0.9176);transform-origin:0 0">TBRG</span></div>
<div class="x" style="left:700.60px;top:661px;line-height:19px;font-size:12px;font-weight:bold;-webkit-text-stroke:0"><span style="transform:scaleX(0.9721);transform-origin:0 0">TYPE B</span></div>
</body></html>
